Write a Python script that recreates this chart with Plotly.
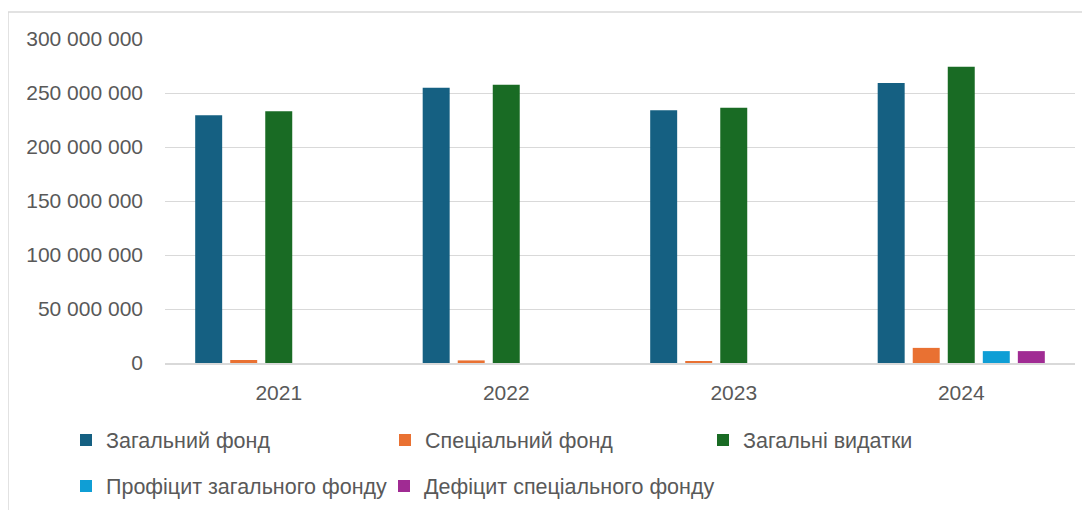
import plotly.graph_objects as go

# budget values by year, UAH
years = ["2021", "2022", "2023", "2024"]
series_names = [
    "Загальний фонд",
    "Спеціальний фонд",
    "Загальні видатки",
    "Профіцит загального фонду",
    "Дефіцит спеціального фонду",
]
general_fund = [229_500_000, 254_800_000, 234_000_000, 259_300_000]
special_fund = [2_800_000, 2_400_000, 1_600_000, 14_000_000]
general_spending = [233_000_000, 257_600_000, 236_300_000, 274_300_000]
general_surplus = [0, 0, 0, 11_000_000]
special_deficit = [0, 0, 0, 11_000_000]
y_ticks = [0, 50_000_000, 100_000_000, 150_000_000, 200_000_000, 250_000_000, 300_000_000]

colors = ["#156082", "#E97132", "#196B24", "#0F9ED5", "#A02B93"]
values = [general_fund, special_fund, general_spending, general_surplus, special_deficit]

# page body has an 8px margin, so the figure starts at (8, 8) on screen
OFF = 8
W, H = 1090 - OFF, 510 - OFF
L, R, T, B = 165 - OFF, 15, 39 - OFF, 510 - 363
pw, ph = W - L - R, H - T - B


def px_x(x):
    # screen px -> paper x
    return (x - OFF - L) / pw


def px_y(y):
    # screen px -> paper y
    return (H - B - (y - OFF)) / ph


# legend text start (screen px) and row centre, one legend per entry
legend_pos = [(104, 440), (423, 440), (741, 440), (104, 486), (422, 486)]

fig = go.Figure()
for i, (name, vals) in enumerate(zip(series_names, values)):
    lg = "legend" if i == 0 else f"legend{i + 1}"
    fig.add_trace(
        go.Bar(
            x=years,
            y=vals,
            name=name,
            marker=dict(color=colors[i], line=dict(width=0)),
            legend=lg,
        )
    )

font = dict(family="Liberation Sans, Arial, sans-serif", size=21, color="#595959")
legend_font = dict(family="Liberation Sans, Arial, sans-serif", size=21.5, color="#595959")
legends = {}
for i, (tx, ty) in enumerate(legend_pos):
    key = "legend" if i == 0 else f"legend{i + 1}"
    legends[key] = dict(
        x=px_x(tx - 38),
        y=px_y(ty),
        xanchor="left",
        yanchor="middle",
        orientation="h",
        bgcolor="rgba(0,0,0,0)",
        font=legend_font,
        itemwidth=30,
    )

fig.update_layout(
    width=W,
    height=H,
    margin=dict(l=L, r=R, t=T, b=B, autoexpand=False),
    plot_bgcolor="white",
    paper_bgcolor="white",
    font=font,
    barmode="group",
    bargap=0.23,
    bargroupgap=0.23,
    showlegend=True,
    **legends,
    xaxis=dict(
        showgrid=False,
        showline=True,
        linecolor="#d9d9d9",
        linewidth=1.5,
        ticks="",
        ticklabelstandoff=10,
        tickfont=font,
    ),
    yaxis=dict(
        range=[0, 300_000_000],
        tickvals=y_ticks,
        ticktext=[f"{v:,}".replace(",", " ") for v in y_ticks],
        showgrid=True,
        gridcolor="#d9d9d9",
        gridwidth=1.2,
        zeroline=False,
        showline=False,
        ticks="",
        ticklabelstandoff=21,
        tickfont=font,
    ),
    shapes=[
        dict(type="line", xref="paper", yref="paper",
             x0=px_x(8), x1=px_x(1090), y0=px_y(12), y1=px_y(12),
             line=dict(color="#d9d9d9", width=1.5)),
        dict(type="line", xref="paper", yref="paper",
             x0=px_x(8), x1=px_x(8), y0=px_y(12), y1=px_y(510),
             line=dict(color="#d9d9d9", width=1.5)),
    ],
)

fig.write_html("out.html")
